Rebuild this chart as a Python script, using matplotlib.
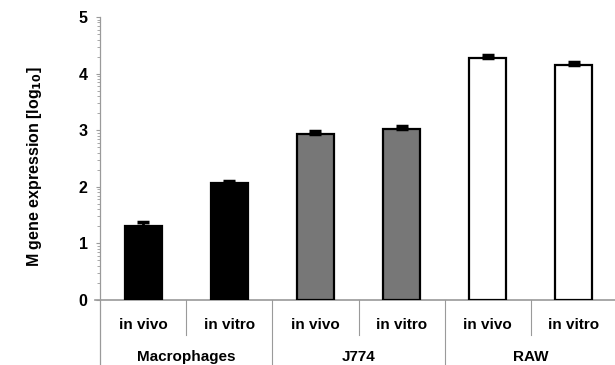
import numpy as np
import matplotlib
matplotlib.use("Agg")
import matplotlib.pyplot as plt

plt.rcParams['font.family'] = ['Liberation Sans', 'DejaVu Sans']
plt.rcParams['font.weight'] = 'bold'

# data
conditions = ["in vivo", "in vitro", "in vivo", "in vitro", "in vivo", "in vitro"]
groups = ["Macrophages", "J774", "RAW"]
values = [1.30, 2.07, 2.93, 3.03, 4.27, 4.15]
errors = [0.08, 0.04, 0.05, 0.04, 0.06, 0.05]
bar_colors = ["#000000", "#000000", "#777777", "#777777", "#ffffff", "#ffffff"]
y_ticks = [0, 1, 2, 3, 4, 5]

W, H = 615, 365
fig = plt.figure(figsize=(W / 100, H / 100), dpi=100)
left_px, right_px, top_px, base_px = 100, 617, 17, 300
ax = fig.add_axes([left_px / W, (H - base_px) / H,
                   (right_px - left_px) / W, (base_px - top_px) / H])

x = np.arange(len(values))
ax.bar(x, values, width=0.43, color=bar_colors, edgecolor="black",
       linewidth=1.6, zorder=3)
ax.errorbar(x, values, yerr=[np.zeros(len(errors)), errors], fmt="none",
            ecolor="black", elinewidth=2.0, capsize=4, capthick=2.5, zorder=4)

ax.set_xlim(-0.5, len(values) - 0.5)
ax.set_ylim(0, 5)

for s in ["top", "right", "left", "bottom"]:
    ax.spines[s].set_visible(False)

gray = "#9a9a9a"
xt = ax.get_xaxis_transform()
# baseline
ax.plot([-0.56, len(values) - 0.5], [0, 0], color=gray, lw=1.2,
        clip_on=False, zorder=2)
# left axis line, extended down through label area
ax.plot([-0.5, -0.5], [-0.23, 1.0], transform=xt, color=gray, lw=0.9,
        clip_on=False)

# y ticks
ax.set_yticks(y_ticks)
ax.set_yticklabels([str(t) for t in y_ticks], fontsize=11.5, fontweight="bold")
minor = [k + np.log10(m) for k in range(5) for m in range(2, 10)]
ax.set_yticks(minor, minor=True)
ax.tick_params(axis="y", which="major", length=3, width=0.8, color=gray,
               pad=6, direction="out")
ax.tick_params(axis="y", which="minor", length=2.2, width=0.6, color=gray,
               direction="out")
ax.set_xticks([])

ax.set_ylabel("M gene expression [log$_{\\mathbf{10}}$]", fontsize=11.5,
              fontweight="bold")
ax.yaxis.set_label_coords(-56 / (right_px - left_px), 0.47)

# dividers and category labels
for i in range(1, len(values)):
    bottom = -0.23 if i % 2 == 0 else -0.123
    ax.plot([i - 0.5, i - 0.5], [0, bottom], transform=xt, color=gray,
            lw=0.8, clip_on=False)
for i, c in enumerate(conditions):
    ax.text(i, -0.088, c, transform=xt, ha="center", va="center",
            fontsize=11, fontweight="bold")
for g, name in enumerate(groups):
    ax.text(2 * g + 0.5, -0.2, name, transform=xt, ha="center", va="center",
            fontsize=11, fontweight="bold")

fig.savefig("out.png", dpi=100)
